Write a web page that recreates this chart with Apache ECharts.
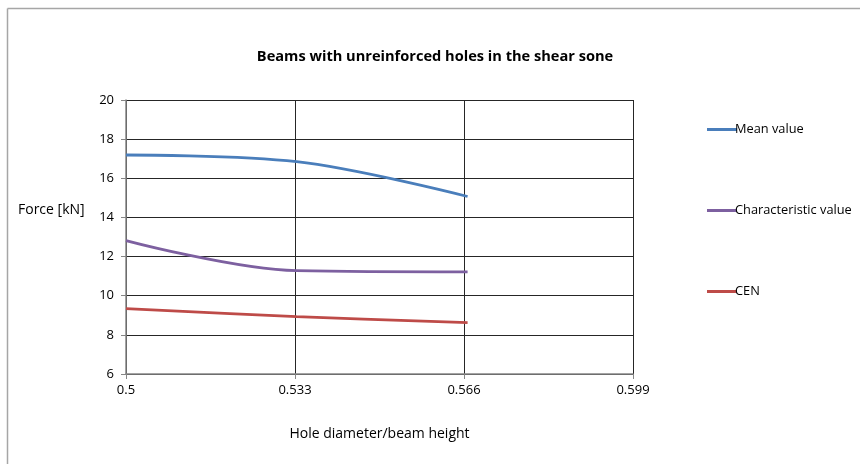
<!DOCTYPE html>
<html>
<head>
<meta charset="utf-8">
<script src="https://cdn.jsdelivr.net/npm/echarts@6/dist/echarts.min.js"></script>
<style>html,body{margin:0;padding:0;background:#fff}#c{width:860px;height:464px}</style>
</head>
<body>
<div id="c"></div>
<script>
const ratios = [0.5, 0.5333, 0.5667];
const meanValue = [17.19, 16.85, 15.07];
const characteristicValue = [12.82, 11.28, 11.22];
const cenValue = [9.34, 8.93, 8.62];
const seriesNames = ['Mean value', 'Characteristic value', 'CEN'];
const titleText = 'Beams with unreinforced holes in the shear sone';
const xName = 'Hole diameter/beam height';
const yName = 'Force [kN]';

const FONT = '"Open Sans", sans-serif';
const chart = echarts.init(document.getElementById('c'));
const pairs = arr => ratios.map((x, i) => [x, arr[i]]);
const colors = ['#4a7ebb', '#7d60a0', '#be4b48'];
const datasets = [meanValue, characteristicValue, cenValue];

chart.setOption({
  animation: false,
  backgroundColor: '#fff',
  title: {
    text: titleText, left: 430, top: 44, textAlign: 'center',
    textStyle: { fontFamily: FONT, fontSize: 14.6, fontWeight: 'bold', color: '#000' }
  },
  graphic: [
    { type: 'line', shape: { x1: 7.5, y1: 8.5, x2: 860, y2: 8.5 }, style: { stroke: '#a6a6a6', lineWidth: 1.5 } },
    { type: 'line', shape: { x1: 7.5, y1: 8.5, x2: 7.5, y2: 464 }, style: { stroke: '#a6a6a6', lineWidth: 1.5 } },
    { type: 'text', left: 18, top: 203, style: { text: yName, font: '14px ' + FONT, fill: '#000' } }
  ],
  legend: {
    orient: 'vertical', left: 702, top: 118, itemGap: 68, itemWidth: 30, itemHeight: 14,
    icon: 'path://M0,0 L30,0 L30,3 L0,3 Z',
    textStyle: { fontFamily: FONT, fontSize: 12.8, color: '#000', padding: [0, 0, 0, -7] },
    data: seriesNames
  },
  grid: { left: 126, right: 227, top: 100, bottom: 90, containLabel: false },
  xAxis: {
    type: 'value', min: 0.5, max: 0.599, interval: 0.033,
    name: xName, nameLocation: 'middle', nameGap: 53,
    nameTextStyle: { fontFamily: FONT, fontSize: 14, color: '#000' },
    axisLine: { lineStyle: { color: '#868686', width: 1.5 } },
    axisTick: { show: true, length: 5, lineStyle: { color: '#868686' } },
    axisLabel: { fontFamily: FONT, fontSize: 13, color: '#000', margin: 10,
      formatter: v => String(parseFloat(v.toFixed(3))) },
    splitLine: { show: true, lineStyle: { color: '#262626', width: 1 } }
  },
  yAxis: {
    type: 'value', min: 6, max: 20, interval: 2,
    axisLine: { show: true, lineStyle: { color: '#868686', width: 1.5 } },
    axisTick: { show: true, length: 5, lineStyle: { color: '#868686' } },
    axisLabel: { fontFamily: FONT, fontSize: 13, color: '#000', margin: 12 },
    splitLine: { show: true, lineStyle: { color: '#262626', width: 1 } }
  },
  series: seriesNames.map((n, i) => ({
    name: n, type: 'line', data: pairs(datasets[i]), smooth: 0.35, symbol: 'none',
    itemStyle: { color: colors[i] },
    lineStyle: { color: colors[i], width: 2.8 }
  }))
});
</script>
</body>
</html>
